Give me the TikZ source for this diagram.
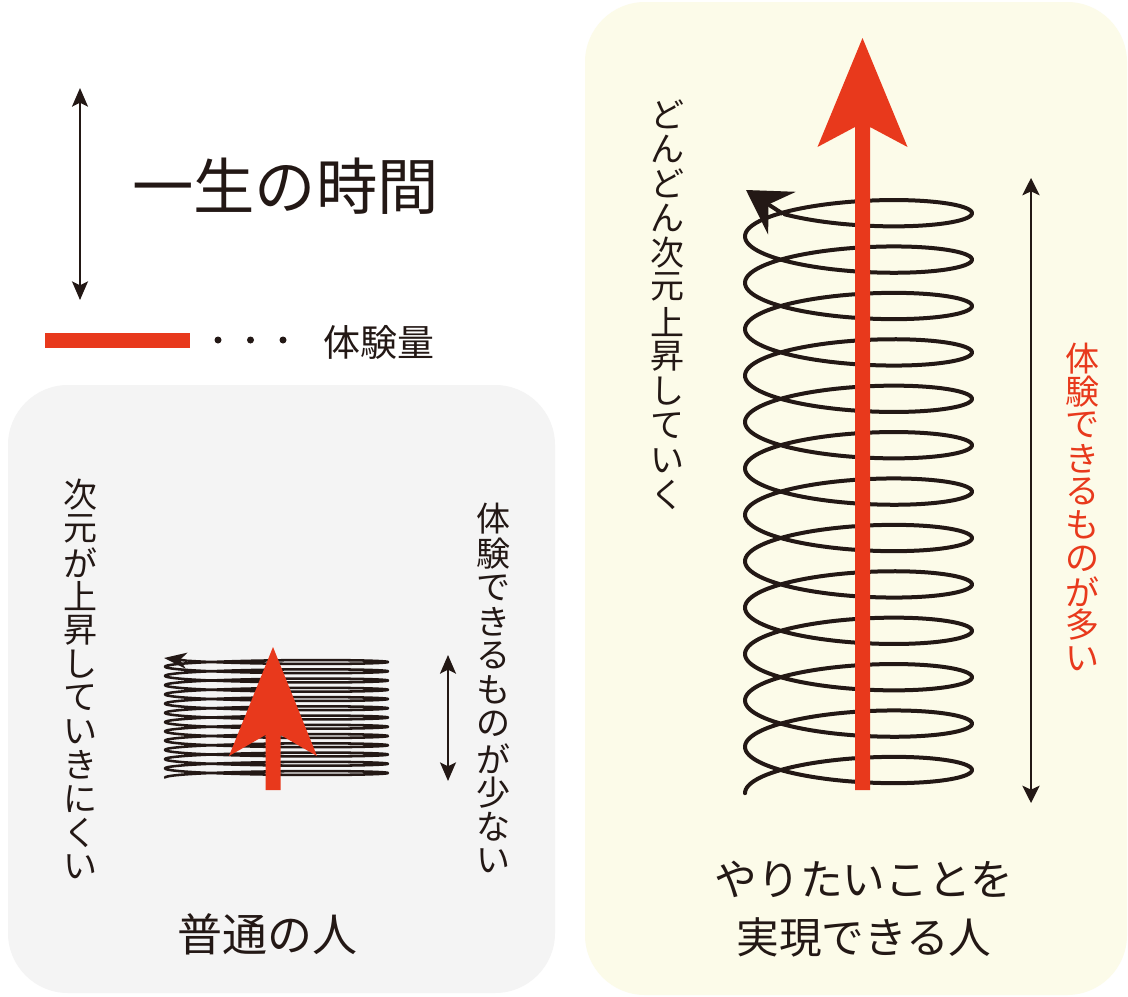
\documentclass[tikz,border=0pt]{standalone}
\usepackage{fontspec}
\newfontfamily\jp{Noto Sans CJK JP}
\usetikzlibrary{arrows.meta}
\definecolor{jred}{RGB}{232,57,28}
\definecolor{jink}{RGB}{35,24,21}
\definecolor{graybg}{RGB}{244,244,244}
\definecolor{yelbg}{RGB}{252,251,233}
\tikzset{
  vch/.style={inner sep=0pt, text=jink, font=\jp\fontsize{25.5pt}{30pt}\selectfont},
  vchred/.style={vch, text=jred},
  htext/.style={inner sep=0pt, text=jink},
  dblarrow/.style={draw=jink, line width=1.4pt, {Stealth[length=14pt,width=12pt,inset=3pt]}-{Stealth[length=14pt,width=12pt,inset=3pt]}},
  redfill/.style={fill=jred, draw=none},
  coilbig/.style={draw=jink, line width=3pt, line join=round, line cap=round},
  coilsmall/.style={draw=jink, line width=1.9pt, line join=round, line cap=round},
  panel/.style={rounded corners=45pt, draw=none}
}
\begin{document}
\begin{tikzpicture}[x=0.75pt,y=-0.75pt,
  declare function={
    bx(\t)=858.5+113.5*cos(\t r);
    by(\t)=770-46.4*\t/6.28319+23.6*sin(\t r);
    sx(\t)=276.5+111.5*cos(\t r);
    sy(\t)=773-9.25*\t/6.28319+4*sin(\t r);
  }]
\useasboundingbox (0,0) rectangle (1128,996);
\fill[white] (0,0) rectangle (1128,996);

% panels
\fill[panel, graybg] (8,385) rectangle (555,993);
\fill[panel, yelbg] (585,2) rectangle (1127,995);

% legend
\coordinate (lg-top) at (80,88);
\coordinate (lg-bot) at (80,300);
\draw[dblarrow] (lg-top) -- (lg-bot);
\node[htext, anchor=west, font=\jp\fontsize{46pt}{50pt}\selectfont] (title) at (132,186) {一生の時間};
\fill[redfill] (45,333) rectangle (190,348);
\foreach \dx [count=\i] in {218,250.5,283}
  \fill[jink] (\dx,340) circle (3.5);
\node[htext, anchor=west, font=\jp\fontsize{27.75pt}{30pt}\selectfont] (taiken) at (323,342) {体験量};

% left panel: small coil
\draw[coilsmall] plot[domain=-3.14159:77.898, samples=1200] ({sx(\x)},{sy(\x)});
\coordinate (send) at ({sx(77.898)},{sy(77.898)});
\coordinate (stip) at (164,658);
\draw[draw=jink, line width=1.9pt, -{Stealth[length=17pt,width=12pt,inset=5pt]}] (send) -- (stip);
% small red arrow
\fill[redfill] (273,647) -- (317,756) -- (280.5,735) -- (280.5,790) -- (265.5,790) -- (265.5,735) -- (229,756) -- cycle;
% double arrow
\coordinate (sa-top) at (448,655);
\coordinate (sa-bot) at (448,781);
\draw[dblarrow] (sa-top) -- (sa-bot);

\foreach \ch [count=\i] in {次,元,が,上,昇,し,て,い,き,に,く,い}
  \node[vch, name=la\i] at (80,{478+17+(\i-1)*33.75}) {\ch};
\foreach \ch [count=\i] in {体,験,で,き,る,も,の,が,少,な,い}
  \node[vch, name=lb\i] at (493,{502+17+(\i-1)*34.2}) {\ch};
\node[htext, font=\jp\fontsize{33.75pt}{36pt}\selectfont] (futsu) at (267,934) {普通の人};

% right panel: big coil
\draw[coilbig] plot[domain=-3.14159:77.698, samples=1400] ({bx(\x)},{by(\x)});
\coordinate (bend) at ({bx(77.698)},{by(77.698)});
\coordinate (btip) at (746,190);
\draw[draw=jink, line width=3pt, -{Stealth[length=32pt,width=38pt,inset=12pt]}] (bend) -- (btip);
% big red arrow
\fill[redfill] (862.5,38) -- (907.5,147) -- (870,127) -- (870,790) -- (855,790) -- (855,127) -- (817.5,147) -- cycle;
% right double arrow
\coordinate (ra-top) at (1031,178);
\coordinate (ra-bot) at (1031,803);
\draw[dblarrow, {Stealth[length=13pt,width=13pt,inset=3pt]}-{Stealth[length=13pt,width=13pt,inset=3pt]}] (ra-top) -- (ra-bot);

\foreach \ch [count=\i] in {ど,ん,ど,ん,次,元,上,昇,し,て,い,く}
  \node[vch, name=rc\i] at (667,{97+17.3+(\i-1)*34.6}) {\ch};
\foreach \ch [count=\i] in {体,験,で,き,る,も,の,が,多,い}
  \node[vchred, name=rd\i] at (1082,{342+16.6+(\i-1)*33.3}) {\ch};

\node[htext, font=\jp\fontsize{32pt}{36pt}\selectfont] (yaritai) at (864,879) {やりたいことを};
\node[htext, font=\jp\fontsize{32pt}{36pt}\selectfont] (jitsugen) at (864,937) {実現できる人};
\end{tikzpicture}
\end{document}
